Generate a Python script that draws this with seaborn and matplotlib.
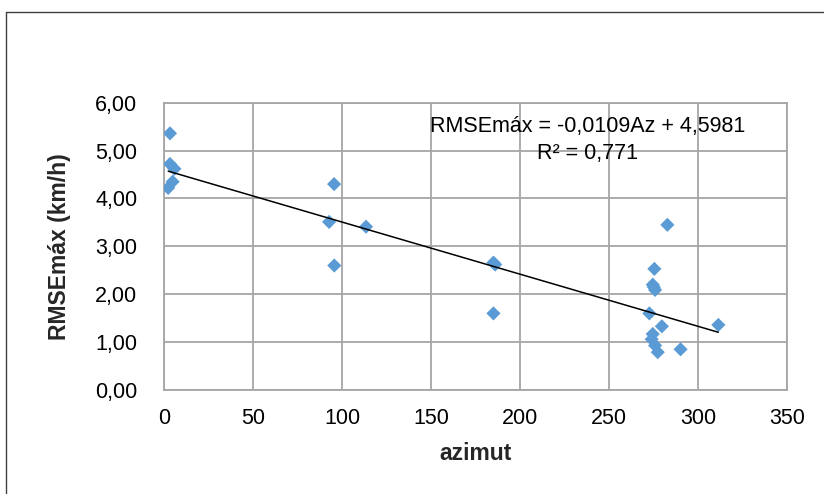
import matplotlib
matplotlib.use("Agg")
import matplotlib.pyplot as plt
from matplotlib.ticker import FuncFormatter
from matplotlib.lines import Line2D
import numpy as np
import pandas as pd
import seaborn as sns

# Azimuth of each station and its maximum RMSE (km/h)
azimut = [3.5, 3.5, 6.0, 2.5, 5.0,
          95.6, 92.8, 113.5, 95.7,
          185.0, 186.0, 185.0,
          282.6, 275.3, 274.4, 275.7, 275.0, 272.5, 279.5, 311.2,
          274.4, 273.8, 275.7, 277.2, 290.0]
rmse_max = [5.36, 4.72, 4.62, 4.22, 4.35,
            4.30, 3.51, 3.41, 2.60,
            2.66, 2.62, 1.60,
            3.45, 2.53, 2.20, 2.09, 2.15, 1.60, 1.33, 1.36,
            1.17, 1.06, 0.93, 0.79, 0.85]

# Linear trend stated on the chart
slope = -0.0109
intercept = 4.5981
r2 = 0.771

x_ticks = [0, 50, 100, 150, 200, 250, 300, 350]
y_ticks = [0, 1, 2, 3, 4, 5, 6]

df = pd.DataFrame({"azimut": azimut, "rmse": rmse_max})

sns.set_theme(style="white")
plt.rcParams["font.family"] = ["Liberation Sans", "DejaVu Sans"]

fig = plt.figure(figsize=(8.24, 4.94), dpi=100)
ax = fig.add_axes([0.1987, 0.2105, 0.757, 0.5816])

grid_c = "#a6a6a6"
ax.set_xlim(0, 350)
ax.set_ylim(0, 6)
ax.set_xticks(x_ticks)
ax.set_yticks(y_ticks)
ax.grid(True, color=grid_c, linewidth=1.3)
ax.set_axisbelow(True)
for s in ax.spines.values():
    s.set_color(grid_c)
    s.set_linewidth(1.3)

sns.scatterplot(data=df, x="azimut", y="rmse", marker="D", s=52,
                color="#5b9bd5", edgecolor="none", ax=ax, zorder=3)

xl = np.array([min(azimut), max(azimut)])
ax.plot(xl, slope * xl + intercept, color="black", linewidth=1.1, zorder=4)

fmt_y = FuncFormatter(lambda v, _: f"{v:.2f}".replace(".", ","))
ax.yaxis.set_major_formatter(fmt_y)
ax.tick_params(axis="both", which="major", labelsize=15.5, colors="black",
               length=5, width=1.3, direction="out")
ax.tick_params(axis="x", color=grid_c, pad=8)
ax.tick_params(axis="y", color=grid_c, pad=14)

ax.set_xlabel("azimut", fontsize=16.5, fontweight="bold")
ax.set_ylabel("RMSEmáx (km/h)", fontsize=16.5, fontweight="bold")
ax.xaxis.set_label_coords(0.5, -0.182)
ax.yaxis.set_label_coords(-0.149, 0.5)

eq = f"RMSEmáx = {slope:.4f}Az + {intercept:.4f}".replace(".", ",")
r2_txt = f"R² = {r2:.3f}".replace(".", ",")
ax.text(0.679, 0.918, eq, transform=ax.transAxes, ha="center", va="center",
        fontsize=15.5, color="black", zorder=5)
ax.text(0.679, 0.822, r2_txt, transform=ax.transAxes, ha="center", va="center",
        fontsize=15.5, color="black", zorder=5)

# Chart-area frame (top and left edges)
frame_c = "#404040"
fig.add_artist(Line2D([0.0068, 1.0], [0.976, 0.976], transform=fig.transFigure,
                      color=frame_c, linewidth=1.0))
fig.add_artist(Line2D([0.0068, 0.0068], [0.0, 0.976], transform=fig.transFigure,
                      color=frame_c, linewidth=1.0))

fig.savefig("out.png", dpi=100)
